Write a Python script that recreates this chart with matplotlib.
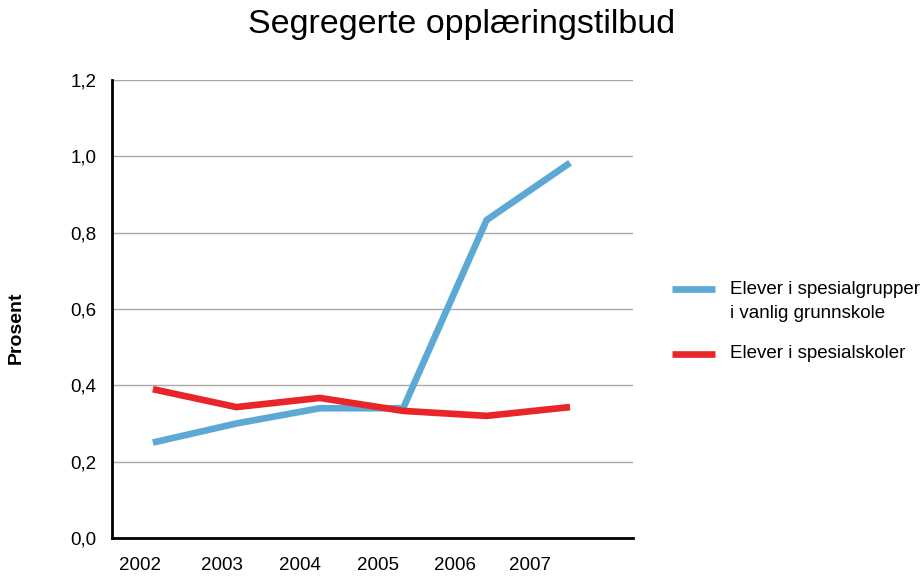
import matplotlib
matplotlib.use("Agg")
import matplotlib.pyplot as plt
from matplotlib.lines import Line2D

plt.rcParams['font.family'] = ['Liberation Sans', 'DejaVu Sans']

years = ['2002', '2003', '2004', '2005', '2006', '2007']
spesialgrupper = [0.25, 0.30, 0.34, 0.34, 0.833, 0.983]
spesialskoler = [0.39, 0.343, 0.367, 0.333, 0.32, 0.343]
label_blue = ['Elever i spesialgrupper', 'i vanlig grunnskole']
label_red = 'Elever i spesialskoler'
yticks = [0.0, 0.2, 0.4, 0.6, 0.8, 1.0, 1.2]
ytick_labels = ['0,0', '0,2', '0,4', '0,6', '0,8', '1,0', '1,2']

blue = '#5DA9D5'
red = '#E8262A'
LW = 4.8

fig = plt.figure(figsize=(9.22, 5.76), dpi=100)
ax = fig.add_axes([112/922, 38/576, 521/922, 458/576])

x = list(range(len(years)))
ax.plot(x, spesialgrupper, color=blue, lw=LW, solid_capstyle='butt', solid_joinstyle='miter', zorder=3)
ax.plot(x, spesialskoler, color=red, lw=LW, solid_capstyle='butt', solid_joinstyle='miter', zorder=3)

ax.set_xlim(-0.49, 5.755)
ax.set_ylim(0, 1.2)
ax.set_yticks(yticks)
ax.set_yticklabels(ytick_labels, fontsize=13.5)
label_pos = [-0.156, 0.83, 1.76, 2.70, 3.62, 4.52]
ax.set_xticks(label_pos)
ax.set_xticklabels(years, fontsize=13.5)
ax.tick_params(axis='x', length=0, pad=14)
ax.tick_params(axis='y', length=0, pad=11)

ax.grid(axis='y', color='#A9A9A9', lw=1.0)
ax.set_axisbelow(True)
for s in ['top', 'right']:
    ax.spines[s].set_visible(False)
for s in ['left', 'bottom']:
    ax.spines[s].set_linewidth(2.0)
    ax.spines[s].set_color('black')
    ax.spines[s].set_zorder(4)

fig.text(462/922, 1 - 24/576, 'Segregerte opplæringstilbud', ha='center', va='center', fontsize=24.5)
fig.text(16/922, 1 - 328/576, 'Prosent', rotation=90, ha='center', va='center', fontsize=14, fontweight='bold')

# legend drawn manually (handle aligned with first text line, as in the reference)
def fy(py):
    return 1 - py/576

fig.add_artist(Line2D([672/922, 715/922], [fy(289), fy(289)], color=blue, lw=LW, solid_capstyle='butt'))
fig.add_artist(Line2D([672/922, 715/922], [fy(354), fy(354)], color=red, lw=LW, solid_capstyle='butt'))
fig.text(730/922, fy(289), label_blue[0], ha='left', va='center', fontsize=13.5)
fig.text(730/922, fy(314), label_blue[1], ha='left', va='center', fontsize=13.5)
fig.text(730/922, fy(354), label_red, ha='left', va='center', fontsize=13.5)

fig.savefig('out.png', dpi=100)
